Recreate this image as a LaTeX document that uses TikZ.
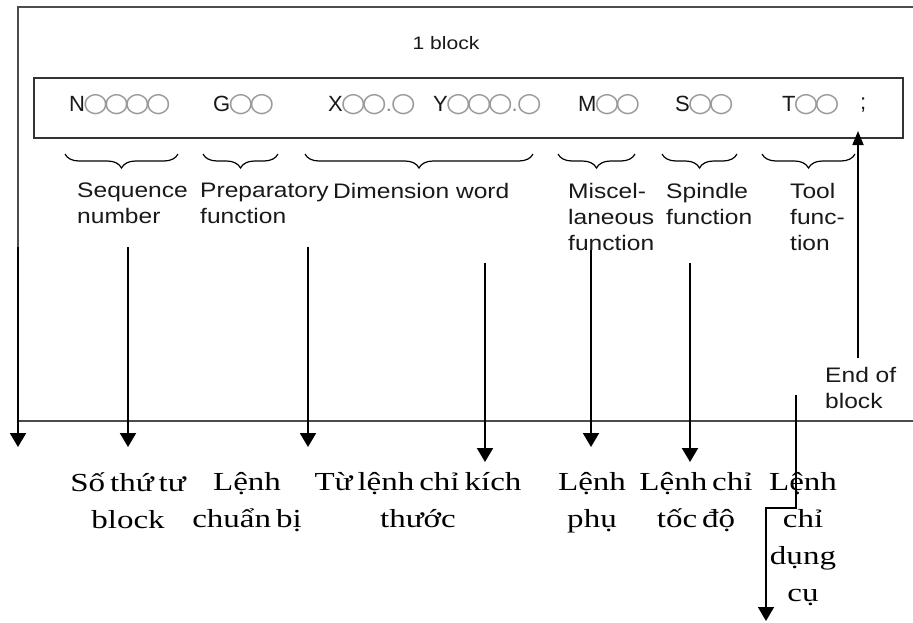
\documentclass[tikz,border=0pt]{standalone}
\usepackage{fontspec}
\usepackage{graphicx}
\setmainfont{Liberation Serif}
\newfontfamily\labfam[FakeStretch=1.17]{Liberation Sans}
\newfontfamily\boxfam{Liberation Sans}
\newfontfamily\symfam{DejaVu Sans}
\newfontfamily\vietfam[FakeStretch=1.27,WordSpace=0.6]{Liberation Serif}
\usetikzlibrary{arrows.meta,decorations.pathreplacing}
\newcommand\labfont{\fontsize{21}{26}\selectfont\labfam}
\newcommand\boxfont{\fontsize{22}{25}\selectfont\boxfam}
\newcommand\vfont{\fontsize{26}{37}\selectfont\vietfam}
\newcommand\cir{{\color{black!40}\symfam\kern-2pt\scalebox{1.3}[1.2]{○}\kern-2pt}}
\newcommand\dt{{\color{black!45}\kern1pt.\kern1pt}}
\begin{document}
\begin{tikzpicture}[x=1pt,y=-1pt,
  frame/.style={draw=black!70,line width=1.8pt},
  brc/.style={decorate,decoration={brace,mirror,amplitude=14pt},line width=1.2pt},
  lab/.style={anchor=north west,inner sep=0pt,align=left,font=\labfont,text=black!90},
  vt/.style={anchor=north,inner sep=0pt,align=center,font=\vfont},
  dn/.style={line width=2pt,-{Triangle[length=14pt,width=16pt]}},
  boxt/.style={anchor=west,inner sep=0pt,font=\boxfont,text=black!90}]
\useasboundingbox (0,0) rectangle (913,622);
\fill[white] (0,0) rectangle (913,622);
% outer frame
\draw[frame] (913,7) -- (18,7) -- (18,421) -- (913,421);
% block box
\node[draw=black!80,line width=1.8pt,minimum width=869pt,minimum height=60pt,anchor=north west,inner sep=0pt] (blk) at (33,77) {};
\node[font=\fontsize{18}{22}\selectfont\labfam,text=black!90] (title) at (446,43) {1 block};
% block words
\node[boxt] (wn) at (69,105) {N\cir\cir\cir\cir};
\node[boxt] (wg) at (213,105) {G\cir\cir};
\node[boxt] (wx) at (328,105) {X\cir\cir\dt\cir};
\node[boxt] (wy) at (433,105) {Y\cir\cir\cir\dt\cir};
\node[boxt] (wm) at (578,105) {M\cir\cir};
\node[boxt] (ws) at (675,105) {S\cir\cir};
\node[boxt] (wt) at (782,105) {T\cir\cir};
\node[boxt] (wend) at (860,105) {;};
% braces
\foreach \i/\a/\b in {1/65/178,2/203/278,3/305/533,4/558/635,5/662/737,6/762/855}{
  \coordinate (bl\i) at (\a,154);
  \coordinate (br\i) at (\b,154);
  \draw[brc] (bl\i) -- (br\i);
}
% english labels
\node[lab] (lseq) at (77,183) {Sequence\\number};
\node[lab] (lprep) at (200,183) {Preparatory\\function};
\node[lab] (ldim) at (333,183) {Dimension word};
\node[lab] (lmisc) at (568,183) {Miscel-\\laneous\\function};
\node[lab] (lspin) at (666,183) {Spindle\\function};
\node[lab] (ltool) at (790,183) {Tool\\func-\\tion};
\node[lab] (leob) at (825,367) {End of\\block};
% vietnamese labels
\node[vt] (vseq) at (128,472) {Số thứ tư\\block};
\node[vt] (vprep) at (247,472) {Lệnh\\chuẩn bị};
\node[vt] (vdim) at (418,472) {Từ lệnh chỉ kích\\thước};
\node[vt] (vmisc) at (592,472) {Lệnh\\phụ};
\node[vt] (vspin) at (696,472) {Lệnh chỉ\\tốc độ};
\node[vt] (vtool) at (803,472) {Lệnh\\chỉ\\dụng\\cụ};
% end of block arrow
\coordinate (eobs) at (858,358);
\coordinate (eobe) at (858,131);
\draw[line width=1.8pt,-{Triangle[length=14pt,width=11pt]}] (eobs) -- (eobe);
% down arrows
\foreach \n/\x/\s/\e in {a1/18/247/447,a2/128/247/447,a3/308/247/447,a4/485/263/462,a5/591/250/447,a6/690/263/462}{
  \coordinate (\n s) at (\x,\s);
  \coordinate (\n e) at (\x,\e);
  \draw[dn] (\n s) -- (\n e);
}
% zigzag arrow
\coordinate (zs) at (796,395);
\coordinate (zm) at (766,508);
\coordinate (ze) at (766,621);
\draw[line width=1.6pt,-{Triangle[length=14pt,width=16pt]}] (zs) |- (zm) -- (ze);
\end{tikzpicture}
\end{document}
